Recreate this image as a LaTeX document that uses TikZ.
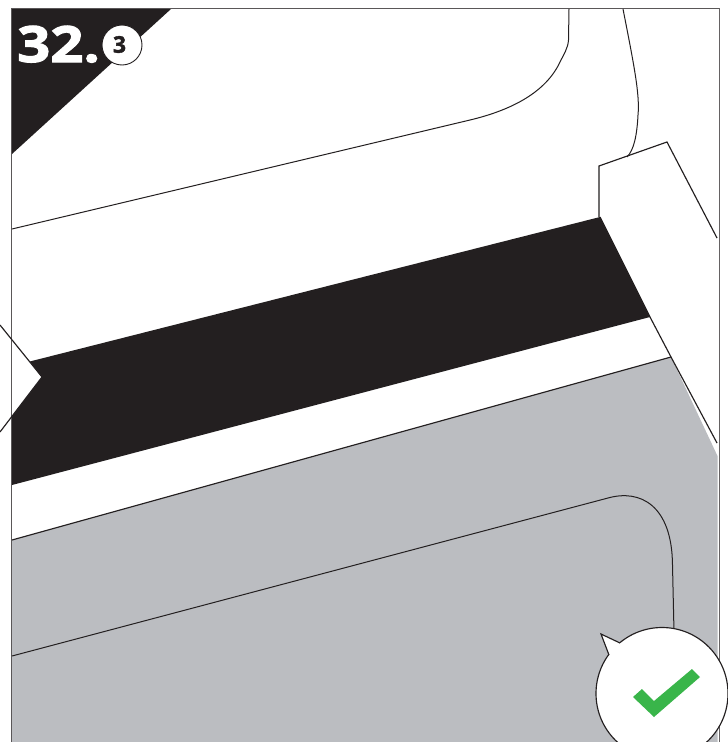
\documentclass[tikz,border=0pt]{standalone}
\usepackage{fontspec}
\setmainfont{Open Sans}
\newfontfamily\numfont[FakeBold=2.2,FakeStretch=1.16]{Open Sans Bold}
\newfontfamily\subfont[FakeBold=1.5]{Open Sans Bold}
\definecolor{ink}{HTML}{231F20}
\definecolor{panelgrey}{HTML}{BBBDC1}
\definecolor{okgreen}{HTML}{39B54A}
\tikzset{
  outline/.style={draw=ink,line width=1.15pt,line join=miter},
  thin outline/.style={draw=ink,line width=1pt},
}
\begin{document}
\begin{tikzpicture}[x=1pt,y=-1pt]
\useasboundingbox (0,0) rectangle (728,742);
\clip (0,0) rectangle (728,742);
\fill[white] (0,0) rectangle (728,742);
% grey floor
\fill[panelgrey] (12,540) -- (671,357) -- (717.5,456) -- (717.5,742) -- (12,742) -- cycle;
% black band
\fill[ink] (12,366) -- (600,217) -- (650,317) -- (12,485) -- cycle;
% black corner
\fill[ink] (12,9) -- (171,9) -- (12,154) -- cycle;
% frame
\draw[draw=ink!75,line width=1pt] (11.5,742) -- (11.5,8.5) -- (719.5,8.5);
\draw[draw=ink!70,line width=1.8pt] (719.5,8) -- (719.5,742);
% upper curves
\draw[thin outline] (12,229) -- (470,120) .. controls (512,110) and (546,92) .. (560,62) .. controls (564,54) and (568,48) .. (568.5,40) -- (569,9);
\draw[thin outline] (623,9) .. controls (634,65) and (640,95) .. (638,115) .. controls (637,135) and (634,150) .. (627,157);
% post
\draw[outline] (599,217) -- (599,166) -- (667,142) -- (717,238);
\draw[outline] (600,217) -- (650,317) -- (671,357) -- (717,443);
% floor edge and inner curve
\draw[outline] (12,540) -- (671,357);
\draw[thin outline] (12,656) -- (608,498) .. controls (640,489) and (672,505) .. (672.5,565) -- (674,632);
% left pointer
\fill[white] (0,325) -- (42,377) -- (0,432) -- cycle;
\draw[draw=ink!75,line width=1pt] (11.5,325) -- (11.5,418);
\draw[outline] (0,325) -- (42,377) -- (0,432);
% bubble
\coordinate (bc) at (662,693.5);
\node[circle,minimum size=132pt,inner sep=0pt,outline,fill=white] (bubble) at (bc) {};
\fill[white] (609,655) -- (601,634) -- (620,643) -- (640,660) -- cycle;
\draw[outline] (609,655) -- (601,634) -- (620,643);
\fill[okgreen] (633,697) -- (642,689) -- (654,701) -- (692,669) -- (700,677) -- (654,717) -- cycle;
% number
\node[anchor=base west,inner sep=0pt,text=white,font=\numfont\fontsize{50}{50}\selectfont] (num) at (17,62) {32.};
\node[circle,draw=ink,line width=0.9pt,fill=white,minimum size=40pt,inner sep=0pt] (sub) at (122,45) {};
\node[inner sep=0pt,text=ink,font=\subfont\fontsize{23}{23}\selectfont] (subnum) at (119.5,44.5) {3};
\end{tikzpicture}
\end{document}
